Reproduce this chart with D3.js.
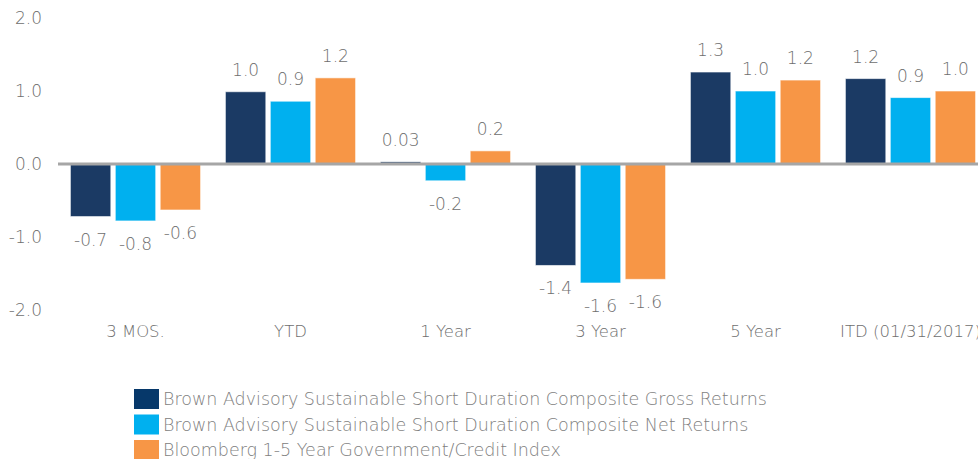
<!DOCTYPE html>
<html>
<head>
<meta charset="utf-8">
<script src="https://cdn.jsdelivr.net/npm/d3@7"></script>
<style>
  body { margin: 0; background: #fff; }
  text { font-family: "DejaVu Sans", "Open Sans", sans-serif; font-weight: 200; fill: #6e6e6e; }
</style>
</head>
<body>
<svg id="chart" width="978" height="459"></svg>
<script>
const categories = ["3 MOS.", "YTD", "1 Year", "3 Year", "5 Year", "ITD (01/31/2017)"];
const seriesNames = [
  "Brown Advisory Sustainable Short Duration Composite Gross Returns",
  "Brown Advisory Sustainable Short Duration Composite Net Returns",
  "Bloomberg 1-5 Year Government/Credit Index"
];
const grossValues = [-0.72, 0.99, 0.03, -1.39, 1.26, 1.17];
const netValues = [-0.78, 0.86, -0.23, -1.63, 1.0, 0.91];
const indexValues = [-0.63, 1.18, 0.18, -1.58, 1.15, 1.0];
const grossLabels = ["-0.7", "1.0", "0.03", "-1.4", "1.3", "1.2"];
const netLabels = ["-0.8", "0.9", "-0.2", "-1.6", "1.0", "0.9"];
const indexLabels = ["-0.6", "1.2", "0.2", "-1.6", "1.2", "1.0"];
const yTicks = [2, 1, 0, -1, -2];

const colors = ["#1b3a64", "#00b0ef", "#f79646"];
const legendColors = ["#06386a", "#00b0ef", "#f79646"];

const series = [grossValues, netValues, indexValues];
const labels = [grossLabels, netLabels, indexLabels];

const svg = d3.select("#chart");

const x = d3.scaleBand()
    .domain(categories)
    .range([58, 988])
    .paddingInner(0.16)
    .paddingOuter(0.08);

const xInner = d3.scaleBand()
    .domain([0, 1, 2])
    .range([0, x.bandwidth()])
    .paddingInner(0.1);

const y = d3.scaleLinear()
    .domain([-2, 2])
    .range([310, 18]);

// Y tick labels
svg.append("g")
    .selectAll("text")
    .data(yTicks)
    .enter()
    .append("text")
    .attr("x", 42)
    .attr("y", d => y(d) + 6)
    .attr("text-anchor", "end")
    .style("font-size", "17px")
    .text(d => d.toFixed(1));

// Bars
const groups = svg.append("g")
    .selectAll("g")
    .data(categories)
    .enter()
    .append("g")
    .attr("transform", d => `translate(${x(d)},0)`);

groups.selectAll("rect")
    .data((d, i) => series.map((s, k) => ({ k: k, v: s[i], label: labels[k][i] })))
    .enter()
    .append("rect")
    .attr("x", d => xInner(d.k))
    .attr("width", xInner.bandwidth())
    .attr("y", d => y(Math.max(0, d.v)))
    .attr("height", d => Math.abs(y(d.v) - y(0)))
    .attr("fill", d => colors[d.k])
    .attr("stroke", "rgba(255,255,255,0.6)")
    .attr("stroke-width", 1);

// Value labels
groups.selectAll("text.val")
    .data((d, i) => series.map((s, k) => ({ k: k, v: s[i], label: labels[k][i] })))
    .enter()
    .append("text")
    .attr("class", "val")
    .attr("x", d => xInner(d.k) + xInner.bandwidth() / 2)
    .attr("y", d => d.v >= 0 ? y(d.v) - 16 : y(d.v) + 29)
    .attr("text-anchor", "middle")
    .style("font-size", "17px")
    .text(d => d.label);

// Zero line
svg.append("line")
    .attr("x1", 58)
    .attr("x2", 978)
    .attr("y1", y(0))
    .attr("y2", y(0))
    .attr("stroke", "#a6a6a6")
    .attr("stroke-width", 3);

// Category labels (the last one runs off the right edge, as in the original)
svg.append("g")
    .selectAll("text")
    .data(categories)
    .enter()
    .append("text")
    .attr("x", d => x(d) + x.bandwidth() / 2)
    .attr("y", 337)
    .attr("text-anchor", "middle")
    .style("font-size", "16.5px")
    .text(d => d);

// Legend
const legend = svg.append("g")
    .selectAll("g")
    .data(seriesNames)
    .enter()
    .append("g")
    .attr("transform", (d, i) => `translate(134, ${389 + i * 25.5})`);

legend.append("rect")
    .attr("width", 25)
    .attr("height", 20)
    .attr("fill", (d, i) => legendColors[i]);

legend.append("text")
    .attr("x", 29)
    .attr("y", 16)
    .style("font-size", "17.5px")
    .style("fill", "#808080")
    .text(d => d);
</script>
</body>
</html>
